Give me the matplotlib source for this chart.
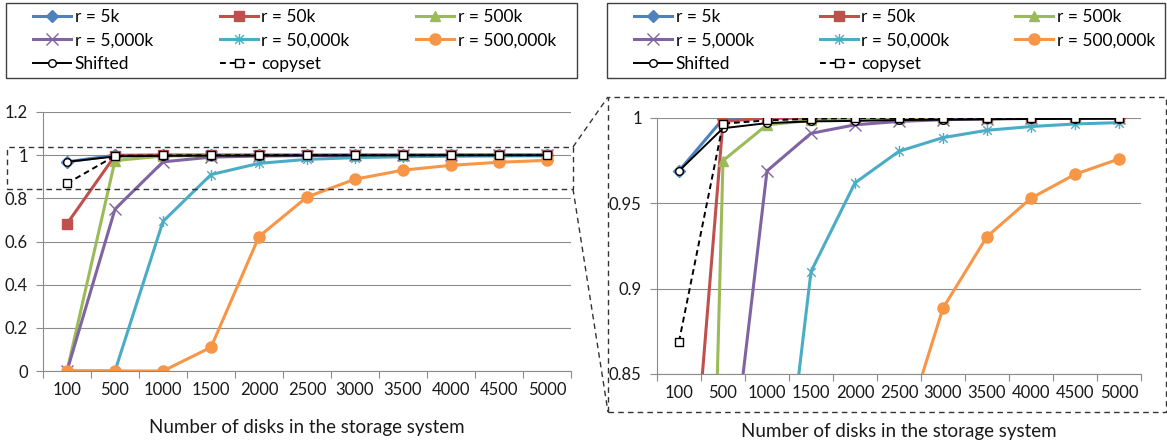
import numpy as np
import matplotlib
matplotlib.use("Agg")
import matplotlib.pyplot as plt
from matplotlib.path import Path
from matplotlib.patches import Rectangle
from matplotlib.lines import Line2D

plt.rcParams['font.family'] = ['Lato', 'DejaVu Sans']

disks = ['100', '500', '1000', '1500', '2000', '2500', '3000', '3500', '4000', '4500', '5000']

r5k = [0.969, 0.9995, 1, 1, 1, 1, 1, 1, 1, 1, 1]
r50k = [0.682, 0.998, 1, 1, 1, 1, 1, 1, 1, 1, 1]
r500k = [0, 0.975, 0.996, 0.9986, 0.9995, 1, 1, 1, 1, 1, 1]
r5000k = [0, 0.75, 0.969, 0.991, 0.996, 0.998, 0.999, 0.9995, 1, 1, 1]
r50000k = [0, 0, 0.693, 0.910, 0.962, 0.9805, 0.9885, 0.9928, 0.995, 0.9965, 0.9973]
r500000k = [0, 0, 0, 0.11, 0.623, 0.806, 0.8886, 0.9305, 0.953, 0.967, 0.976]
shifted = [0.969, 0.994, 0.997, 0.998, 0.9983, 0.9988, 0.999, 0.9992, 0.9994, 0.9995, 0.9996]
copyset = [0.869, 0.9967, 0.9986, 0.9995, 1, 1, 1, 1, 1, 1, 1]

labels = ['r = 5k', 'r = 50k', 'r = 500k', 'r = 5,000k', 'r = 50,000k', 'r = 500,000k',
          'Shifted', 'copyset']

# excel style star: x plus vertical bar
star = Path([(-1, -1), (1, 1), (-1, 1), (1, -1), (0, -1.3), (0, 1.3)],
            [Path.MOVETO, Path.LINETO, Path.MOVETO, Path.LINETO, Path.MOVETO, Path.LINETO])

W, H = 1167, 445
fig = plt.figure(figsize=(W / 100, H / 100), dpi=100)


def box(x0, y0, x1, y1):
    return [x0 / W, 1 - y1 / H, (x1 - x0) / W, (y1 - y0) / H]


grid_c = '#8c8c8c'
txt_c = '#1a1a1a'
fs = 12


def draw(ax, lpad):
    x = np.arange(len(disks))
    ax.plot(x, r5k, color='#4F81BD', lw=2.2, marker='D', ms=6, label=labels[0])
    ax.plot(x, r50k, color='#C0504D', lw=2.2, marker='s', ms=7, label=labels[1])
    ax.plot(x, r500k, color='#9BBB59', lw=2.2, marker='^', ms=7, label=labels[2])
    ax.plot(x, r5000k, color='#8064A2', lw=2.2, marker='x', ms=8, mew=1.0, label=labels[3])
    ax.plot(x, r50000k, color='#4BACC6', lw=2.2, marker=star, ms=8, mew=1.0, label=labels[4])
    ax.plot(x, r500000k, color='#F79646', lw=2.2, marker='o', ms=8, label=labels[5])
    ax.plot(x, shifted, color='black', lw=1.4, marker='o', ms=5.5, mfc='white', mew=1.0, label=labels[6])
    ax.plot(x, copyset, color='black', lw=1.4, ls=(0, (3, 2)), marker='s', ms=5.5, mfc='white', mew=1.0,
            label=labels[7])
    ax.set_xlim(-0.5, len(disks) - 0.5)
    ax.set_xticks(x, disks)
    ax.set_xticks(np.arange(len(disks) + 1) - 0.5, minor=True)
    ax.tick_params(axis='x', which='major', length=0, pad=8, labelsize=fs, labelcolor=txt_c)
    ax.tick_params(axis='x', which='minor', length=5, width=0.8, color=grid_c, direction='out')
    ax.tick_params(axis='y', length=5, width=0.8, color=grid_c, labelsize=fs, labelcolor=txt_c, pad=6)
    ax.grid(axis='y', color=grid_c, lw=0.8)
    ax.set_axisbelow(True)
    for s in ['top', 'right']:
        ax.spines[s].set_visible(False)
    for s in ['left', 'bottom']:
        ax.spines[s].set_color(grid_c)
        ax.spines[s].set_linewidth(0.8)
    ax.set_xlabel('Number of disks in the storage system', fontsize=13.5, color=txt_c, labelpad=lpad)


axL = fig.add_axes(box(43, 112, 571, 371))
draw(axL, 15)
axL.set_ylim(0, 1.2)
axL.set_yticks([0, 0.2, 0.4, 0.6, 0.8, 1.0, 1.2], ['0', '0.2', '0.4', '0.6', '0.8', '1', '1.2'])

axR = fig.add_axes(box(657, 118, 1141, 374))
draw(axR, 16)
axR.set_ylim(0.85, 1.0)
axR.set_yticks([0.85, 0.9, 0.95, 1.0], ['0.85', '0.9', '0.95', '1'])

# legends, Excel row order -> column-major order for matplotlib
order = [0, 3, 6, 1, 4, 7, 2, 5]
for ax, (bx0, bx1), (ix0, ix1) in [(axL, (6, 577), (33, 556)), (axR, (607, 1165), (634, 1155))]:
    h, l = ax.get_legend_handles_labels()
    fig.legend([h[i] for i in order], [l[i] for i in order], ncol=3, mode='expand',
               loc='upper left', bbox_to_anchor=box(ix0, 9, ix1, 78),
               frameon=False, fontsize=12.5, handlelength=2.2, handletextpad=0.2,
               labelspacing=0.43, borderpad=0, borderaxespad=0)
    fig.add_artist(Rectangle((bx0 / W, 1 - 78 / H), (bx1 - bx0) / W, 75 / H,
                             transform=fig.transFigure, fill=False, ec='#404040', lw=1.0))

# zoom indication
dash = dict(color='#333333', lw=1.0, ls=(0, (4, 3)), transform=fig.transFigure)
fig.add_artist(Rectangle((7 / W, 1 - 189 / H), (573 - 7) / W, 42 / H, fill=False, ec='#333333',
                         lw=1.0, ls=(0, (4, 3)), transform=fig.transFigure))
fig.add_artist(Rectangle((608 / W, 1 - 412 / H), (1166 - 608) / W, (412 - 97) / H, fill=False,
                         ec='#333333', lw=1.0, ls=(0, (4, 3)), transform=fig.transFigure))
fig.add_artist(Line2D([573 / W, 608 / W], [1 - 147 / H, 1 - 97 / H], **dash))
fig.add_artist(Line2D([573 / W, 608 / W], [1 - 189 / H, 1 - 412 / H], **dash))

fig.savefig('out.png', dpi=100)
